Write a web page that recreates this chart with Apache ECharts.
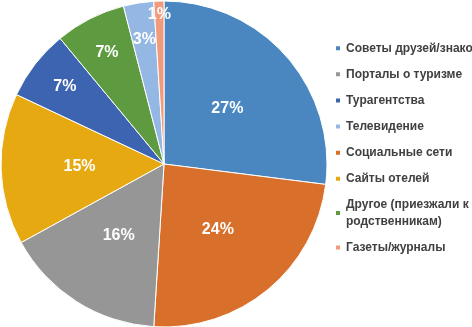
<!DOCTYPE html>
<html lang="ru">
<head>
  <meta charset="UTF-8">
  <title>Источники информации</title>
  <style>
    * { margin: 0; padding: 0; }
  </style>
  <script src="https://cdn.jsdelivr.net/npm/echarts@6/dist/echarts.min.js"></script>
</head>
<body>
  <div id="chart" style="width: 472px; height: 327px;"></div>
  <script>
    const chart = echarts.init(document.getElementById('chart'))

    // доли, % (по часовой стрелке от 12 часов)
    const names = [
      'Советы друзей/знакомых',
      'Социальные сети',
      'Порталы о туризме',
      'Сайты отелей',
      'Турагентства',
      'Другое (приезжали к родственникам)',
      'Телевидение',
      'Газеты/журналы'
    ]
    const values = [27, 24, 16, 15, 7, 7, 3, 1]
    const colors = ['#4a87c1', '#d86f2b', '#969696', '#e6a912', '#3d64b0', '#5e9a3f', '#94b8e3', '#f29b7c']

    // порядок в легенде
    const legendOrder = [
      'Советы друзей/знакомых',
      'Порталы о туризме',
      'Турагентства',
      'Телевидение',
      'Социальные сети',
      'Сайты отелей',
      'Другое (приезжали к родственникам)',
      'Газеты/журналы'
    ]

    const labelFont = { color: '#fff', fontSize: 16, fontWeight: 'bold', fontFamily: 'Liberation Sans, Arial' }

    // подписи: крупные доли в середине сектора, мелкие ближе к краю
    const makeData = (test, visible) => names.map((n, i) => ({
      name: n,
      value: values[i],
      itemStyle: visible ? { color: colors[i] } : { color: 'transparent', borderWidth: 0 },
      label: { show: test(values[i]) }
    }))

    const base = {
      type: 'pie',
      center: [164, 164],
      startAngle: 90,
      animation: false,
      labelLine: { show: false },
      emphasis: { disabled: true }
    }

    chart.setOption({
      backgroundColor: '#fff',
      color: colors,
      legend: {
        orient: 'vertical',
        left: 334,
        top: 40,
        padding: 0,
        data: legendOrder,
        itemWidth: 6,
        itemHeight: 6,
        itemGap: 9.6,
        itemTextGap: 4,
        icon: 'rect',
        selectedMode: false,
        formatter: name => name.replace(' родственникам', '\nродственникам'),
        textStyle: { color: '#404040', fontSize: 12, fontWeight: 'bold', lineHeight: 16.5, fontFamily: 'Liberation Sans, Arial' }
      },
      series: [
        Object.assign({}, base, {
          radius: [0, 163],
          itemStyle: { borderColor: '#fff', borderWidth: 1 },
          label: Object.assign({ position: 'inside', formatter: '{c}%' }, labelFont),
          data: makeData(v => v >= 10, true)
        }),
        Object.assign({}, base, {
          radius: [82, 163],
          silent: true,
          label: Object.assign({ position: 'inside', formatter: '{c}%' }, labelFont),
          data: makeData(v => v >= 3 && v < 10, false)
        }),
        Object.assign({}, base, {
          radius: [130, 163],
          silent: true,
          label: Object.assign({ position: 'inside', formatter: '{c}%' }, labelFont),
          data: makeData(v => v < 3, false)
        })
      ]
    })
  </script>
</body>
</html>
